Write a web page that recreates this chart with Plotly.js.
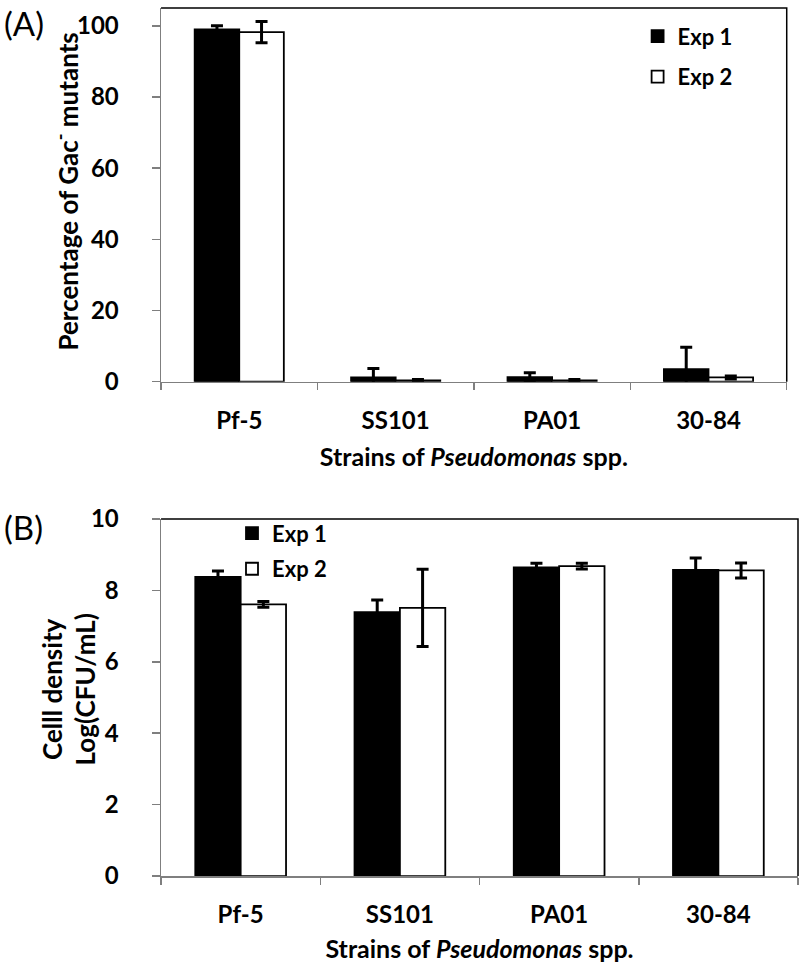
<!DOCTYPE html>
<html><head><meta charset="utf-8">
<script src="https://cdn.plot.ly/plotly-3.0.1.min.js"></script>
<style>html,body{margin:0;padding:0;background:#fff}#chart{width:800px;height:963px}</style>
</head><body><div id="chart"></div>
<script>
const strains = ["Pf-5", "SS101", "PA01", "30-84"];
const seriesNames = ["Exp 1", "Exp 2"];
// Panel A: percentage of Gac- mutants
const gacExp1 = [99.0, 1.2, 1.3, 3.5];
const gacExp1Err = [1.0, 2.5, 1.2, 6.2];
const gacExp2 = [98.2, 0.4, 0.4, 1.2];
const gacExp2Err = [3.0, 0.2, 0.2, 0.4];
// Panel B: cell density log(CFU/mL)
const cellExp1 = [8.38, 7.39, 8.64, 8.57];
const cellExp1Err = [0.16, 0.34, 0.12, 0.34];
const cellExp2 = [7.61, 7.51, 8.68, 8.56];
const cellExp2Err = [0.08, 1.08, 0.08, 0.21];
const yTitleA = "Percentage of Gac<sup>-</sup> mutants";
const yTitleB = "Celll density<br>Log(CFU/mL)";
const xTitle = "Strains of <i>Pseudomonas</i> spp.";

const FONT = "Lato, 'Open Sans', sans-serif";
function bar(y, err, name, fill, xa, ya, leg) {
  return {
    type: "bar", x: strains, y: y, name: name, xaxis: xa, yaxis: ya, legend: leg,
    marker: {color: fill, line: {color: "#000", width: 1.8}},
    error_y: {type: "data", array: err, visible: true, color: "#000", thickness: 3, width: 6},
    hoverinfo: "none"
  };
}
const data = [
  bar(gacExp1, gacExp1Err, seriesNames[0], "#000", "x", "y", "legend"),
  bar(gacExp2, gacExp2Err, seriesNames[1], "#fff", "x", "y", "legend2"),
  bar(cellExp1, cellExp1Err, seriesNames[0], "#000", "x2", "y2", "legend3"),
  bar(cellExp2, cellExp2Err, seriesNames[1], "#fff", "x2", "y2", "legend4")
];
const xTitleFont = {family: FONT, size: 25, color: "#000", weight: "bold"};
const yTitleFont = {family: FONT, size: 26, color: "#000", weight: "bold"};
const tickFont = {family: FONT, size: 24, color: "#000", weight: "bold"};
function xax(domain, anchor) {
  return {domain: domain, anchor: anchor, type: "category", showline: true, linecolor: "#7f7f7f", linewidth: 1.5,
    ticks: "outside", tickson: "boundaries", ticklen: 7, tickcolor: "#7f7f7f", tickwidth: 1.5, ticklabelstandoff: 17,
    tickfont: tickFont, showgrid: false, zeroline: false, fixedrange: true,
    title: {text: xTitle, font: xTitleFont, standoff: 15}};
}
function yax(domain, anchor, range, dtick) {
  return {domain: domain, anchor: anchor, range: range, dtick: dtick, showline: true, linecolor: "#7f7f7f", linewidth: 1.5,
    ticks: "outside", ticklen: 8, tickcolor: "#7f7f7f", tickwidth: 1.5, ticklabelstandoff: 28,
    tickfont: tickFont, showgrid: false, zeroline: false, fixedrange: true};
}
function leg(x, y) {
  return {x: x, y: y, xanchor: "left", yanchor: "top", bgcolor: "rgba(0,0,0,0)",
    font: {family: FONT, size: 22, color: "#000", weight: "bold"}, itemwidth: 30, itemclick: false};
}
const layout = {
  width: 800, height: 963, paper_bgcolor: "#fff", plot_bgcolor: "#fff",
  margin: {l: 0, r: 0, t: 0, b: 0}, showlegend: true,
  barmode: "group", bargap: 0.43, bargroupgap: 0,
  font: {family: FONT, color: "#000"},
  xaxis: xax([0.2013, 0.9834], "y"),
  yaxis: yax([0.6036, 0.9917], "x", [0, 105], 20),
  xaxis2: xax([0.2013, 0.9975], "y2"),
  yaxis2: yax([0.0903, 0.4611], "x2", [0, 10], 2),
  legend: leg(0.797, 0.984),
  legend2: leg(0.797, 0.942),
  legend3: leg(0.29, 0.468),
  legend4: leg(0.29, 0.431),
  shapes: [
    {type: "path", xref: "x domain", yref: "y domain", path: "M0,1 L1,1 L1,0", line: {color: "#000", width: 1.5}},
    {type: "path", xref: "x2 domain", yref: "y2 domain", path: "M0,1 L1,1 L1,0", line: {color: "#000", width: 1.5}}
  ],
  annotations: [
    {text: "(A)", xref: "paper", yref: "paper", x: 0.003, y: 0.999, xanchor: "left", yanchor: "top", showarrow: false,
     font: {family: FONT, size: 33, color: "#000"}},
    {text: "(B)", xref: "paper", yref: "paper", x: 0.003, y: 0.476, xanchor: "left", yanchor: "top", showarrow: false,
     font: {family: FONT, size: 33, color: "#000"}},
    {text: yTitleA, xref: "paper", yref: "paper", x: 66.5 / 800, y: 0.8006, xanchor: "center", yanchor: "middle",
     textangle: -90, showarrow: false, font: yTitleFont},
    {text: yTitleB, xref: "paper", yref: "paper", x: 68.5 / 800, y: 0.2835, xanchor: "center", yanchor: "middle",
     textangle: -90, showarrow: false, font: yTitleFont}
  ]
};
Plotly.newPlot("chart", data, layout, {staticPlot: true, displayModeBar: false});
</script></body></html>
